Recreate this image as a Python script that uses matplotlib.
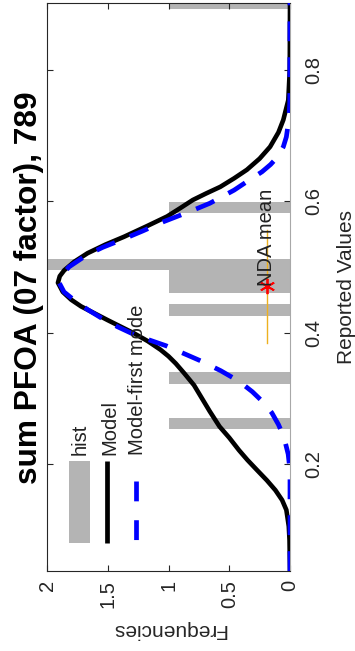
import numpy as np
import matplotlib
matplotlib.use("Agg")
import matplotlib.pyplot as plt
from matplotlib.patches import Rectangle
from matplotlib.lines import Line2D

plt.rcParams['font.family'] = ['Liberation Sans', 'DejaVu Sans']

# histogram of reported values
bin_width = 0.0173
bin_centers = [0.2615, 0.3307, 0.4345, 0.4691, 0.4864, 0.5037, 0.5902, 0.9016]
bin_counts = [1, 1, 1, 1, 1, 2, 1, 1]

# full model curve (reported value, frequency)
model_x = [0.037, 0.060, 0.084, 0.105, 0.130, 0.145, 0.160, 0.175, 0.191, 0.206,
           0.221, 0.240, 0.257, 0.280, 0.300, 0.320, 0.338, 0.353, 0.364, 0.374,
           0.387, 0.399, 0.419, 0.440, 0.450, 0.462, 0.476, 0.486, 0.495, 0.508,
           0.521, 0.534, 0.546, 0.562, 0.577, 0.590, 0.602, 0.612, 0.622, 0.635,
           0.648, 0.665, 0.683, 0.705, 0.724, 0.754, 0.800, 0.902]
model_y = [0.000, 0.002, 0.004, 0.010, 0.030, 0.065, 0.120, 0.190, 0.273, 0.350,
           0.420, 0.500, 0.580, 0.660, 0.725, 0.790, 0.870, 0.940, 1.000, 1.066,
           1.170, 1.284, 1.500, 1.720, 1.800, 1.870, 1.910, 1.895, 1.858, 1.775,
           1.666, 1.520, 1.366, 1.180, 1.011, 0.900, 0.800, 0.690, 0.574, 0.460,
           0.355, 0.250, 0.164, 0.095, 0.055, 0.014, 0.002, 0.000]

# first mode only
mode_x = [0.037, 0.190, 0.215, 0.241, 0.260, 0.278, 0.294, 0.310, 0.326, 0.342,
          0.357, 0.380, 0.396, 0.409, 0.422, 0.435, 0.450, 0.462, 0.476, 0.485,
          0.500, 0.518, 0.530, 0.541, 0.555, 0.569, 0.587, 0.597, 0.617, 0.633,
          0.645, 0.656, 0.668, 0.683, 0.698, 0.724, 0.750, 0.902]
mode_y = [0.000, 0.000, 0.015, 0.050, 0.095, 0.150, 0.220, 0.310, 0.420, 0.570,
          0.735, 1.020, 1.270, 1.420, 1.550, 1.665, 1.780, 1.860, 1.900, 1.885,
          1.820, 1.675, 1.540, 1.390, 1.210, 1.040, 0.790, 0.660, 0.460, 0.330,
          0.230, 0.160, 0.100, 0.055, 0.030, 0.010, 0.002, 0.000]

# NDA mean and its range
nda_mean = 0.4703
nda_halfwidth = 0.086
nda_level = 0.19

title = "sum PFOA (07 factor), 789"

fig = plt.figure(figsize=(3.55, 6.51), dpi=100)
ax = fig.add_axes([47 / 355, 1 - 571 / 651, 243 / 355, 568 / 651])

gray = '#b4b4b4'
ax.barh(bin_centers, bin_counts, height=bin_width, color=gray, edgecolor='none', zorder=1)
ax.plot(model_y, model_x, color='black', lw=3.3, solid_capstyle='butt', zorder=3)
blue, = ax.plot(mode_y, mode_x, color='blue', lw=3.4, ls='--', zorder=4)
blue.set_dashes((4.2, 3.4))

ax.plot([nda_level, nda_level], [nda_mean - nda_halfwidth, nda_mean + nda_halfwidth],
        color='#EDB120', lw=1.0, zorder=5)
ax.plot([nda_level], [nda_mean], marker=(6, 2, 0), color='red', ms=11, mew=1.3,
        ls='none', zorder=6)
ax.text(nda_level, nda_mean, 'NDA mean', rotation=90, rotation_mode='anchor',
        ha='left', va='center', fontsize=14.5, color='#222222', zorder=7)

ax.set_xlim(2, 0)
ax.set_ylim(0.037, 0.902)
ax.set_xticks([0, 0.5, 1, 1.5, 2])
ax.set_xticklabels(['0', '0.5', '1', '1.5', '2'])
ax.set_yticks([0.2, 0.4, 0.6, 0.8])
ax.tick_params(axis='both', direction='in', top=True, bottom=True, left=True, right=True,
               length=4.5, width=0.8, labelsize=14.5, colors='#262626')
ax.tick_params(axis='x', labelrotation=90, pad=6.5)
ax.tick_params(axis='y', labelleft=False, labelright=True, labelrotation=90, pad=10)
for lab in ax.get_yticklabels():
    lab.set_va('center')
for name, sp in ax.spines.items():
    sp.set_color('#262626')
    sp.set_linewidth(0.8)
ax.spines['right'].set_color('#a8a8a8')

# legend drawn by hand so its text can be rotated
tr = ax.transAxes
ax.add_patch(Rectangle((0.0905, 0.0493), 0.0865, 0.1444, transform=tr,
                       facecolor=gray, edgecolor='none', zorder=8))
ax.add_line(Line2D([0.247, 0.247], [0.0493, 0.1937], transform=tr, color='black',
                   lw=3.4, solid_capstyle='butt', zorder=8))
leg_blue = Line2D([0.366, 0.366], [0.158, 0.0493], transform=tr, color='blue',
                  lw=3.4, ls='--', zorder=8)
leg_blue.set_dashes((4.2, 4.0))
ax.add_line(leg_blue)
for fx, txt in [(0.138, 'hist'), (0.258, 'Model'), (0.372, 'Model-first mode')]:
    ax.text(fx, 0.204, txt, transform=tr, rotation=90, rotation_mode='anchor',
            ha='left', va='center', fontsize=14.5, color='#222222', zorder=9)

fig.text(37 / 355, 1 - 287.5 / 651, title, rotation=90, rotation_mode='anchor',
         ha='center', va='baseline', fontsize=22.8, fontweight='bold')
fig.text(352 / 355, 1 - 287 / 651, 'Reported Values', rotation=90, rotation_mode='anchor',
         ha='center', va='baseline', fontsize=15, color='#262626')
fig.text(168.5 / 355, 1 - 624 / 651, 'Frequencies', rotation=180, rotation_mode='anchor',
         ha='center', va='baseline', fontsize=15, color='#262626')

fig.savefig('out.png', dpi=100)
